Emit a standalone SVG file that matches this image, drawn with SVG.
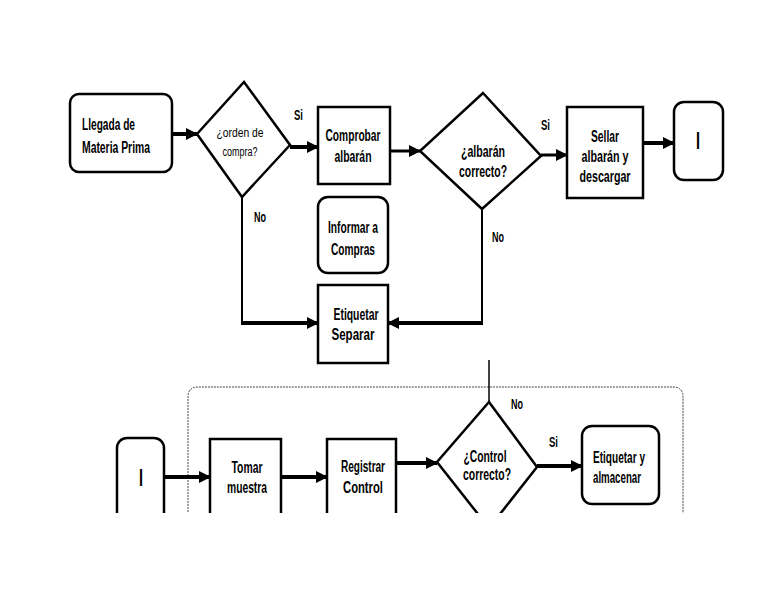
<svg xmlns="http://www.w3.org/2000/svg" width="768" height="594" viewBox="0 0 768 594">
<style>
.box{fill:#fff;stroke:#000;stroke-width:2.5}
.t{font-family:"Liberation Sans",Arial,sans-serif;font-weight:bold;font-size:16px;fill:#000;text-anchor:middle}
.ts{font-family:"Liberation Sans",Arial,sans-serif;font-size:12px;fill:#000;text-anchor:middle}
.ti{font-family:"Liberation Sans",Arial,sans-serif;font-weight:bold;font-size:24px;fill:#000;text-anchor:middle}
.lbl{font-family:"Liberation Sans",Arial,sans-serif;font-weight:bold;font-size:14px;fill:#000}
.thick{fill:none;stroke:#000;stroke-width:4}
.med{fill:none;stroke:#000;stroke-width:3}
.thin{fill:none;stroke:#000;stroke-width:2}
.dash{fill:none;stroke:#444;stroke-width:1;stroke-dasharray:2 1}
</style>
<defs>
<marker id="ah" markerUnits="userSpaceOnUse" markerWidth="12" markerHeight="12" refX="11" refY="6" orient="auto">
<path d="M0,0 L12,6 L0,12 Z" fill="#000"/>
</marker>
<clipPath id="cut"><rect x="0" y="0" width="768" height="513"/></clipPath>
</defs>
<rect width="768" height="594" fill="#fff"/>

<g id="n_llegada">
<rect class="box" x="70" y="94" width="102" height="78" rx="9"/>
<text class="t" x="82" y="130" style="text-anchor:start" textLength="53" lengthAdjust="spacingAndGlyphs">Llegada de</text>
<text class="t" x="82" y="153" style="text-anchor:start" textLength="68" lengthAdjust="spacingAndGlyphs">Materia Prima</text>
</g>
<g id="d_orden">
<polygon class="box" points="244,82 290,145 242,197 197,134"/>
<text class="ts" x="240" y="137" textLength="47" lengthAdjust="spacingAndGlyphs">¿orden de</text>
<text class="ts" x="240" y="156" textLength="35" lengthAdjust="spacingAndGlyphs">compra?</text>
</g>
<g id="n_comprobar">
<rect class="box" x="318" y="107" width="72" height="77"/>
<text class="t" x="353" y="141" textLength="55" lengthAdjust="spacingAndGlyphs">Comprobar</text>
<text class="t" x="353" y="162" textLength="37" lengthAdjust="spacingAndGlyphs">albarán</text>
</g>
<g id="d_albaran">
<polygon class="box" points="483,93 541,156 482,209 420,151"/>
<text class="t" x="483" y="157" textLength="44" lengthAdjust="spacingAndGlyphs">¿albarán</text>
<text class="t" x="483" y="177" textLength="48" lengthAdjust="spacingAndGlyphs">correcto?</text>
</g>
<g id="n_sellar">
<rect class="box" x="567" y="107" width="76" height="91"/>
<text class="t" x="605" y="142" textLength="28" lengthAdjust="spacingAndGlyphs">Sellar</text>
<text class="t" x="605" y="162" textLength="47" lengthAdjust="spacingAndGlyphs">albarán y</text>
<text class="t" x="605" y="182" textLength="51" lengthAdjust="spacingAndGlyphs">descargar</text>
</g>
<g id="n_conector1">
<rect class="box" x="674" y="102" width="49" height="78" rx="10"/>
<text class="ti" x="698" y="149" textLength="4" lengthAdjust="spacingAndGlyphs">I</text>
</g>
<g id="n_informar">
<rect class="box" x="318" y="197" width="70" height="76" rx="10"/>
<text class="t" x="353" y="233" textLength="50" lengthAdjust="spacingAndGlyphs">Informar a</text>
<text class="t" x="353" y="255" textLength="44" lengthAdjust="spacingAndGlyphs">Compras</text>
</g>
<g id="n_etiq_separar">
<rect class="box" x="318" y="285" width="70" height="78"/>
<text class="t" x="356" y="320" textLength="45" lengthAdjust="spacingAndGlyphs">Etiquetar</text>
<text class="t" x="353" y="340" textLength="43" lengthAdjust="spacingAndGlyphs">Separar</text>
</g>

<g clip-path="url(#cut)">
<path class="dash" d="M188,530 L188,397 Q188,387 198,387 L673,387 Q683,387 683,397 L683,530"/>
<g id="n_conector2">
<rect class="box" x="117" y="438" width="47" height="90" rx="10"/>
<text class="ti" x="141" y="486" textLength="4" lengthAdjust="spacingAndGlyphs">I</text>
</g>
<g id="n_tomar">
<rect class="box" x="210" y="439" width="71" height="90"/>
<text class="t" x="247" y="473" textLength="31" lengthAdjust="spacingAndGlyphs">Tomar</text>
<text class="t" x="247" y="493" textLength="40" lengthAdjust="spacingAndGlyphs">muestra</text>
</g>
<g id="n_registrar">
<rect class="box" x="327" y="439" width="69" height="90"/>
<text class="t" x="363" y="472" textLength="44" lengthAdjust="spacingAndGlyphs">Registrar</text>
<text class="t" x="363" y="493" textLength="40" lengthAdjust="spacingAndGlyphs">Control</text>
</g>
<g id="d_control">
<polygon class="box" points="489,402 537,467 489,528 437,462"/>
<text class="t" x="485" y="462" textLength="43" lengthAdjust="spacingAndGlyphs">¿Control</text>
<text class="t" x="487" y="480" textLength="48" lengthAdjust="spacingAndGlyphs">correcto?</text>
</g>
<g id="n_etiq_almacenar">
<rect class="box" x="582" y="426" width="77" height="78" rx="10"/>
<text class="t" x="619" y="463" textLength="52" lengthAdjust="spacingAndGlyphs">Etiquetar y</text>
<text class="t" x="617" y="483" textLength="48" lengthAdjust="spacingAndGlyphs">almacenar</text>
</g>
</g>

<g id="connectors">
<line class="thick" x1="172" y1="134" x2="197" y2="134" marker-end="url(#ah)"/>
<line class="thick" x1="290" y1="147" x2="318" y2="147" marker-end="url(#ah)"/>
<line class="med" x1="390" y1="151" x2="420" y2="151" marker-end="url(#ah)"/>
<line class="med" x1="541" y1="155" x2="567" y2="155" marker-end="url(#ah)"/>
<line class="thick" x1="643" y1="143" x2="674" y2="143" marker-end="url(#ah)"/>
<line class="thin" x1="242" y1="197" x2="242" y2="323"/>
<line class="thick" x1="241" y1="323" x2="318" y2="323" marker-end="url(#ah)"/>
<line class="thin" x1="482" y1="209" x2="482" y2="323"/>
<line class="thick" x1="483" y1="323" x2="388" y2="323" marker-end="url(#ah)"/>
<line class="thin" x1="489" y1="360" x2="489" y2="402" style="stroke-width:1.5"/>
<line class="thick" x1="164" y1="477" x2="210" y2="477" marker-end="url(#ah)"/>
<line class="thick" x1="281" y1="477" x2="327" y2="477" marker-end="url(#ah)"/>
<line class="thick" x1="396" y1="463" x2="437" y2="463" marker-end="url(#ah)"/>
<line class="thick" x1="537" y1="466" x2="582" y2="466" marker-end="url(#ah)"/>
<text class="lbl" x="294" y="120" textLength="9" lengthAdjust="spacingAndGlyphs">Si</text>
<text class="lbl" x="254" y="222" textLength="12" lengthAdjust="spacingAndGlyphs">No</text>
<text class="lbl" x="541" y="130" textLength="9" lengthAdjust="spacingAndGlyphs">Si</text>
<text class="lbl" x="492" y="242" textLength="12" lengthAdjust="spacingAndGlyphs">No</text>
<text class="lbl" x="511" y="409" textLength="12" lengthAdjust="spacingAndGlyphs">No</text>
<text class="lbl" x="549" y="447" textLength="9" lengthAdjust="spacingAndGlyphs">Si</text>
</g>
</svg>
